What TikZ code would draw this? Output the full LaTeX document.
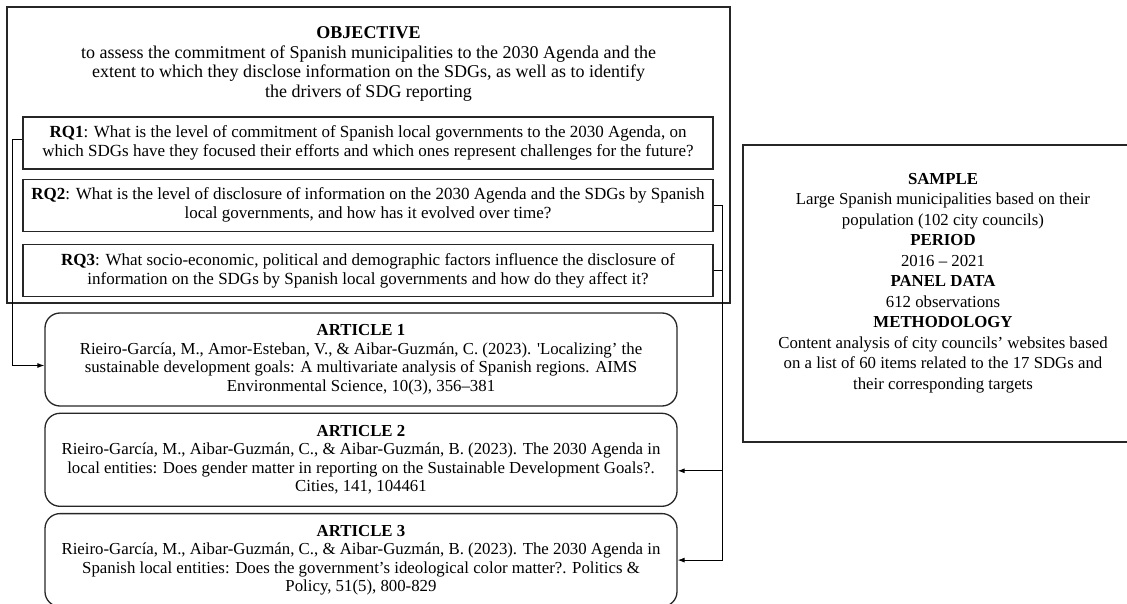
\documentclass[tikz,border=0pt]{standalone}
\usepackage{fontspec}
\setmainfont{Liberation Serif}
\usetikzlibrary{arrows.meta,positioning}

\begin{document}
\begin{tikzpicture}[x=1pt, y=-1pt, >={Latex[length=7pt,width=5pt]},
  font=\fontsize{16.8}{18.5}\selectfont, line width=0.9pt,
  panel/.style={draw=black!85, line width=1.3pt, align=center, inner sep=0pt},
  rqbox/.style={panel, font=\fontsize{17}{19}\selectfont, minimum width=690pt, minimum height=52pt},
  artbox/.style={panel, rounded corners=15pt, minimum width=632pt, minimum height=93pt}]
\path[use as bounding box] (0,0) rectangle (1127,604);
\clip (0,0) rectangle (1127,604);
\node[panel, minimum width=723pt, minimum height=296pt] (obj) at (368.5,155) {};
\node[anchor=north, align=center, inner sep=0pt, font=\fontsize{18}{19.5}\selectfont] (objtxt) at ([yshift=-20pt]obj.north)
  {\textbf{OBJECTIVE}\\to assess the commitment of Spanish municipalities to the 2030 Agenda and the\\
   extent to which they disclose information on the SDGs, as well as to identify\\the drivers of SDG reporting};
\node[rqbox] (rq1) at (368,143) {\textbf{RQ1}: What is the level of commitment of Spanish local governments to the 2030 Agenda, on\\
  which SDGs have they focused their efforts and which ones represent challenges for the future?};
\node[rqbox, below=9pt of rq1] (rq2) {\textbf{RQ2}: What is the level of disclosure of information on the 2030 Agenda and the SDGs by Spanish\\
  local governments, and how has it evolved over time?};
\node[rqbox, below=12pt of rq2] (rq3) {\textbf{RQ3}: What socio-economic, political and demographic factors influence the disclosure of\\
  information on the SDGs by Spanish local governments and how do they affect it?};
\node[artbox] (a1) at (361,359.5) {\textbf{ARTICLE 1}\\Rieiro-García, M., Amor-Esteban, V., \& Aibar-Guzmán, C. (2023). \textquotesingle Localizing’ the\\
  sustainable development goals: A multivariate analysis of Spanish regions. AIMS\\Environmental Science, 10(3), 356–381};
\node[artbox, below=6pt of a1] (a2) {\textbf{ARTICLE 2}\\Rieiro-García, M., Aibar-Guzmán, C., \& Aibar-Guzmán, B. (2023). The 2030 Agenda in\\
  local entities: Does gender matter in reporting on the Sustainable Development Goals?.\\Cities, 141, 104461};
\node[artbox, below=6pt of a2] (a3) {\textbf{ARTICLE 3}\\Rieiro-García, M., Aibar-Guzmán, C., \& Aibar-Guzmán, B. (2023). The 2030 Agenda in\\
  Spanish local entities: Does the government’s ideological color matter?. Politics \&\\Policy, 51(5), 800-829};
\node[panel, minimum width=400pt, minimum height=297pt] (samplebox) at (943,293.5) {};
\node[align=center, font=\fontsize{16.8}{20.5}\selectfont] (sample) at (943,283)
  {\textbf{SAMPLE}\\Large Spanish municipalities based on their\\population (102 city councils)\\
   \textbf{PERIOD}\\2016 – 2021\\\textbf{PANEL DATA}\\612 observations\\\textbf{METHODOLOGY}\\
   Content analysis of city councils’ websites based\\on a list of 60 items related to the 17 SDGs and\\their corresponding targets};
\coordinate (a2in) at ([yshift=-11pt]a2.east);
\draw[->] ([yshift=4pt]rq1.west) -- ++(-10pt,0) |- ([yshift=-6pt]a1.west);
\draw (rq2.east) -- ++(9pt,0) coordinate (rb);
\draw (rq3.east) -- (rq3.east -| rb);
\draw[->] (rb) |- (a3.east);
\draw[->] (rb |- a2in) -- (a2in);
\end{tikzpicture}
\end{document}
